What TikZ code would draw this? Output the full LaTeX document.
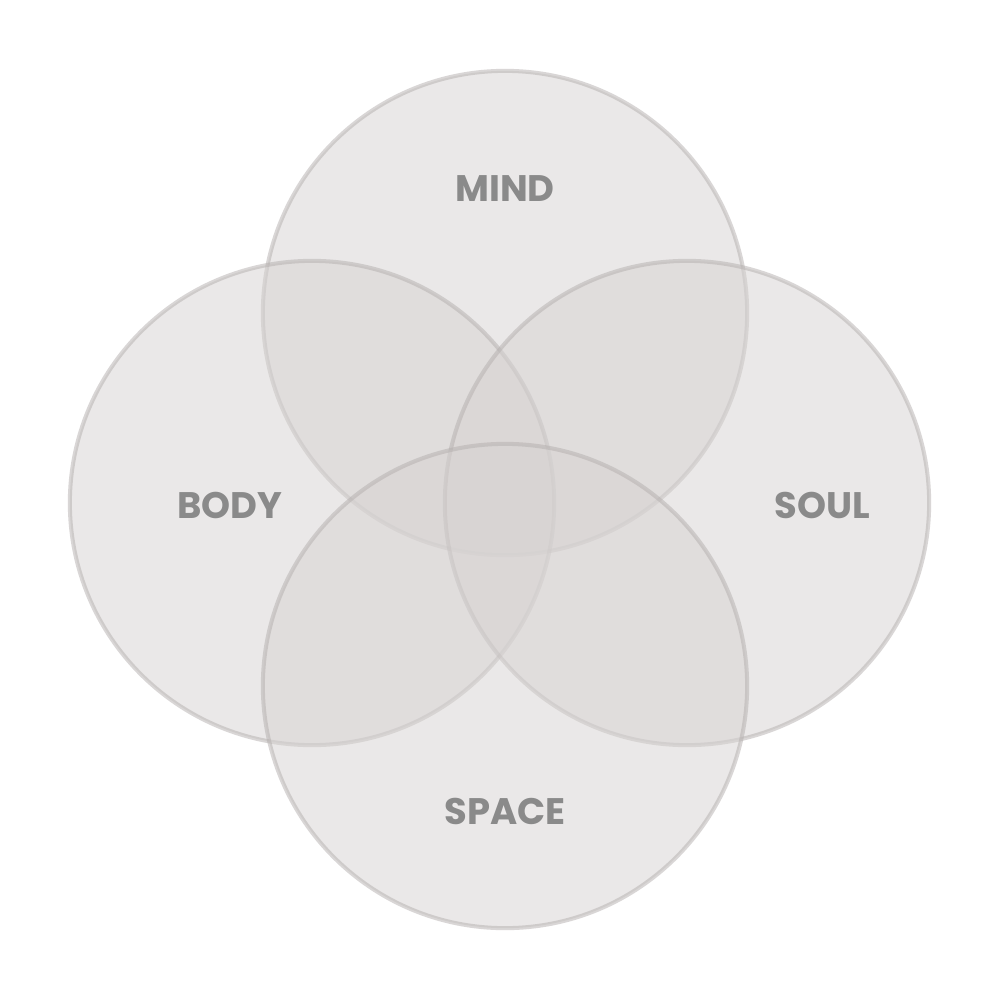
\documentclass[tikz,border=0pt]{standalone}
\usepackage{fontspec}
\setmainfont{Poppins}
\definecolor{circfill}{RGB}{215,211,210}
\definecolor{circline}{RGB}{180,175,174}
\definecolor{labeltext}{RGB}{138,138,138}
\begin{document}
\begin{tikzpicture}[x=0.01cm,y=-0.01cm,
  venn/.style={circle,minimum size=4.84cm,inner sep=0pt,fill=circfill,fill opacity=0.5,draw=circline,draw opacity=0.5,line width=1.15pt},
  lbl/.style={text=labeltext,font=\fontsize{10.5}{12}\selectfont\bfseries,inner sep=0pt,anchor=center}]
\useasboundingbox[fill=white] (0,0) rectangle (1000,1000);
\node[venn] (mind) at (505,313) {};
\node[venn] (body) at (312,503) {};
\node[venn] (soul) at (687,503) {};
\node[venn] (space) at (505,686) {};
\node[lbl] (tmind) at (505,189) {MIND};
\node[lbl] (tbody) at (230,505) {BODY};
\node[lbl] (tsoul) at (822,505) {SOUL};
\node[lbl] (tspace) at (505,811) {SPACE};
\end{tikzpicture}
\end{document}
